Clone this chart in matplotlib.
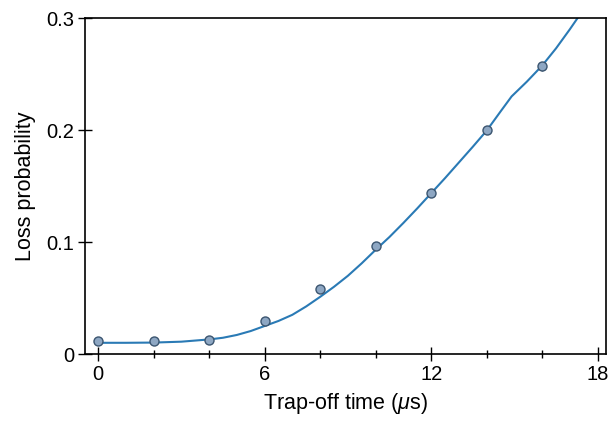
import matplotlib
matplotlib.use("Agg")
import matplotlib.pyplot as plt
from matplotlib.ticker import FixedLocator, FuncFormatter

plt.rcParams['font.family'] = ['Liberation Sans', 'DejaVu Sans']
plt.rcParams['mathtext.fontset'] = 'custom'
plt.rcParams['mathtext.it'] = 'Liberation Sans:italic'
plt.rcParams['mathtext.rm'] = 'Liberation Sans'

# measured data
t_data = [0, 2, 4, 6, 8, 10, 12, 14, 16]
p_data = [0.0116, 0.0116, 0.0125, 0.0295, 0.058, 0.0964, 0.1437, 0.200, 0.257]
p_err = [0.001, 0.001, 0.001, 0.0015, 0.002, 0.002, 0.003, 0.003, 0.004]

# simulation curve
t_sim = [0, 1, 2, 3, 4, 4.5, 5, 5.5, 6, 6.5, 7, 7.5, 8, 8.5, 9, 9.5, 10, 10.5, 11, 11.5,
         12, 12.5, 13, 13.5, 14, 14.5, 14.9, 15.45, 16, 16.5, 17, 17.5]
p_sim = [0.010, 0.010, 0.0102, 0.011, 0.013, 0.0145, 0.017, 0.0205, 0.025, 0.0295, 0.035,
         0.0425, 0.051, 0.060, 0.0698, 0.081, 0.093, 0.1045, 0.117, 0.130, 0.1435, 0.157,
         0.171, 0.185, 0.1994, 0.2165, 0.2300, 0.2432, 0.2575, 0.2729, 0.290, 0.308]

fig = plt.figure(figsize=(6.09, 4.22), dpi=100)
ax = fig.add_axes([85/609, 1-354/422, (606-85)/609, (354-18)/422])

ax.plot(t_sim, p_sim, color='#2a7ab5', lw=1.5, zorder=2, clip_on=True)
ax.errorbar(t_data, p_data, yerr=p_err, fmt='o', ms=6.5, mfc='#8ea7c3', mec='#3b5570',
            mew=1.0, ecolor='#3b5570', elinewidth=1.0, capsize=0, zorder=3)

ax.set_xlim(-0.47, 18.3)
ax.set_ylim(0, 0.3)
ax.xaxis.set_major_locator(FixedLocator([0, 6, 12, 18]))
ax.xaxis.set_minor_locator(FixedLocator([2, 4, 8, 10, 14, 16]))
ax.yaxis.set_major_locator(FixedLocator([0, 0.1, 0.2, 0.3]))
ax.yaxis.set_major_formatter(FuncFormatter(lambda v, p: '0' if v == 0 else f'{v:.1f}'))
ax.tick_params(which='major', direction='inout', length=10, width=1.0, labelsize=14.5, pad=3)
ax.tick_params(which='minor', direction='inout', length=6, width=1.0)
for s in ax.spines.values():
    s.set_linewidth(1.2)

ax.set_xlabel('Trap-off time ($\\mu$s)', fontsize=15.5, labelpad=5)
ax.set_ylabel('Loss probability', fontsize=15.5, labelpad=7)

fig.savefig('out.png', dpi=100)
